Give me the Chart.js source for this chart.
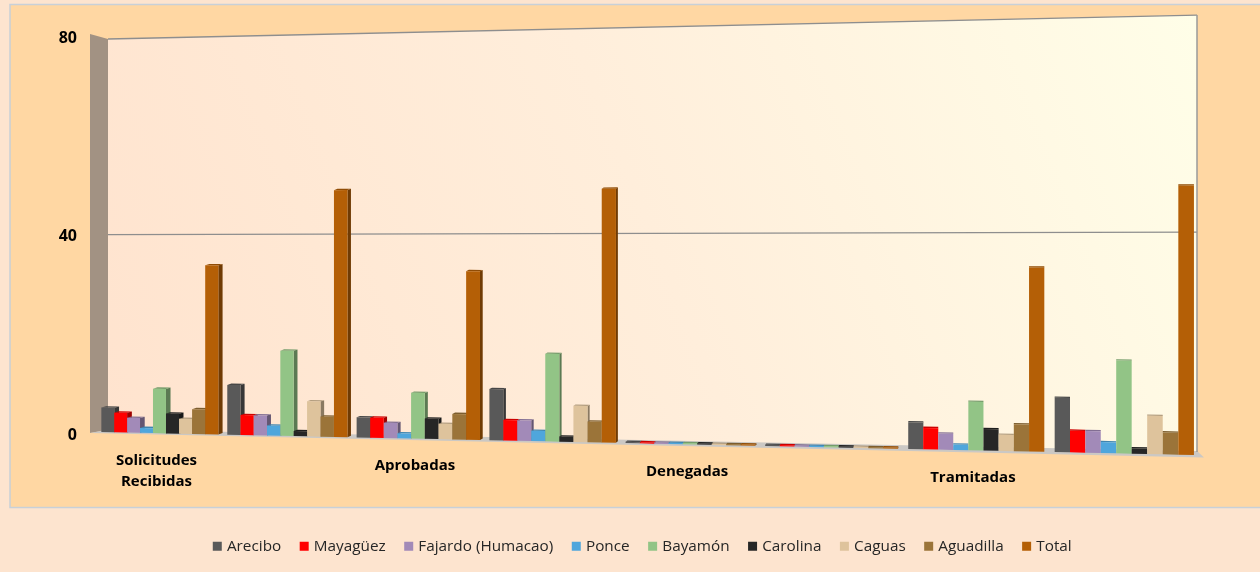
<!DOCTYPE html>
<html>
<head>
<meta charset="utf-8">
<title>Solicitudes por región</title>
<script src="https://cdn.jsdelivr.net/npm/chart.js@4"></script>
<style>
  html, body { margin: 0; padding: 0; background: #FDE4CF; overflow: hidden; }
  canvas { display: block; }
</style>
</head>
<body>
<canvas id="chart" width="1260" height="572"></canvas>
<script>
// Two bars groups per heading, the label only sits under the first one
const categories = [["Solicitudes", "Recibidas"], "", "Aprobadas", "", "Denegadas", "", "Tramitadas", ""];
const yTicks = [0, 40, 80];

const arecibo = [5, 10, 4, 10, 0, 0, 5, 10];
const mayaguez = [4, 4, 4, 4, 0, 0, 4, 4];
const fajardo = [3, 4, 3, 4, 0, 0, 3, 4];
const ponce = [1, 2, 1, 2, 0, 0, 1, 2];
const bayamon = [9, 17, 9, 17, 0, 0, 9, 17];
const carolina = [4, 1, 4, 1, 0, 0, 4, 1];
const caguas = [3, 7, 3, 7, 0, 0, 3, 7];
const aguadilla = [5, 4, 5, 4, 0, 0, 5, 4];
const total = [34, 49, 33, 49, 0, 0, 34, 49];

const seriesNames = ["Arecibo", "Mayagüez", "Fajardo (Humacao)", "Ponce", "Bayamón", "Carolina", "Caguas", "Aguadilla", "Total"];
const seriesValues = [arecibo, mayaguez, fajardo, ponce, bayamon, carolina, caguas, aguadilla, total];
const seriesColors = ["#595959", "#FF0000", "#A28AB8", "#4FA6DC", "#92C486", "#262626", "#DEC39C", "#9B7439", "#B45F06"];

const FONT = '"Open Sans", sans-serif';

// Perspective of the original 3D chart: the scales stay flat, this bends their pixels
const floorY = x => 432 + 0.021 * (x - 100);
const ceilY = x => 39.2 - 0.022 * (x - 100);
const warpX = (chart, px) => {
  const area = chart.chartArea;
  const u = (px - area.left) / (area.right - area.left) * categories.length;
  return 97 + 124.1 * u + 1.71 * u * u;
};
const warpY = (chart, x, py) => {
  const area = chart.chartArea;
  const f = (area.bottom - py) / (area.bottom - area.top);
  return floorY(x) + f * (ceilY(x) - floorY(x));
};

function poly(ctx, pts, fill) {
  ctx.beginPath();
  pts.forEach((p, i) => i ? ctx.lineTo(p[0], p[1]) : ctx.moveTo(p[0], p[1]));
  ctx.closePath();
  ctx.fillStyle = fill;
  ctx.fill();
}

function shade(hex, k) {
  const n = parseInt(hex.slice(1), 16);
  const c = [n >> 16, (n >> 8) & 255, n & 255].map(v => Math.min(255, Math.round(v * k)));
  return `rgb(${c[0]},${c[1]},${c[2]})`;
}

function drawWalls(chart) {
  const ctx = chart.ctx;
  const yScale = chart.scales.y;

  const wall = ctx.createLinearGradient(108, 450, 1197, 15);
  wall.addColorStop(0, "#FFE3CE");
  wall.addColorStop(0.5, "#FFEEDB");
  wall.addColorStop(1, "#FFFEE8");
  poly(ctx, [[108, 39], [1197, 15], [1197, 452], [108, 430]], wall);
  poly(ctx, [[90, 34], [108, 39], [108, 430], [90, 433]], "#A29283");
  poly(ctx, [[90, 433], [108, 429.5], [1197, 451], [1204, 457.5]], "#CBC8C4");

  // grid lines, top one and right border are the wall edges
  yTicks.slice(1).forEach(v => {
    const py = yScale.getPixelForValue(v);
    ctx.beginPath();
    ctx.moveTo(108, warpY(chart, 108, py) - (v === 40 ? 1 : 0));
    ctx.lineTo(1197, warpY(chart, 1197, py) - (v === 40 ? 3 : 0));
    ctx.strokeStyle = "#8E8E8E";
    ctx.lineWidth = 1.3;
    ctx.stroke();
  });
  ctx.beginPath();
  ctx.moveTo(1197, 15);
  ctx.lineTo(1197, 452);
  ctx.strokeStyle = "#9A9A9A";
  ctx.lineWidth = 1.5;
  ctx.stroke();
}

function drawBars(chart) {
  const ctx = chart.ctx;
  categories.forEach((c, i) => {
    chart.data.datasets.forEach((ds, d) => {
      const bar = chart.getDatasetMeta(d).data[i];
      const x0 = warpX(chart, bar.x - bar.width / 2);
      const x1 = warpX(chart, bar.x + bar.width / 2);
      const b0 = floorY(x0), b1 = floorY(x1);
      let t0 = warpY(chart, x0, bar.y), t1 = warpY(chart, x1, bar.y);
      if (ds.data[i] === 0) { t0 -= 1.2; t1 -= 1.2; }
      const depth = Math.max(0, 5.5 * (1 - x1 / 950));
      const rise = 1.3;
      // side, top, front
      poly(ctx, [[x1, t1], [x1 + depth, t1 - rise], [x1 + depth, b1 - 1.5], [x1, b1]], shade(ds.backgroundColor, 0.62));
      poly(ctx, [[x0, t0], [x0 + depth, t0 - rise], [x1 + depth, t1 - rise], [x1, t1]], shade(ds.backgroundColor, 0.8));
      poly(ctx, [[x0, t0], [x1, t1], [x1, b1], [x0, b0]], ds.backgroundColor);
    });
  });
}

function drawCategoryLabels(chart) {
  const ctx = chart.ctx;
  ctx.font = "bold 15px " + FONT;
  ctx.fillStyle = "#000";
  ctx.textAlign = "center";
  ctx.textBaseline = "middle";
  categories.forEach((c, i) => {
    if (!c) return;
    const x = warpX(chart, chart.scales.x.getPixelForValue(i)) - 3;
    [].concat(c).forEach((line, n) => ctx.fillText(line, x, floorY(x) + 27.5 + n * 21));
  });
}

const warpedPlot = {
  id: "warpedPlot",
  // the plot stops short of the right edge but the legend is centred on more than the canvas
  afterLayout(chart) {
    chart.legend.left += 44;
    chart.legend.right += 44;
  },
  beforeDraw(chart) {
    const ctx = chart.ctx;
    ctx.fillStyle = "#FFD7A3";
    ctx.strokeStyle = "#C8D0D8";
    ctx.lineWidth = 1.5;
    ctx.fillRect(10, 4.5, 1260, 503);
    ctx.strokeRect(10, 4.5, 1260, 503);
  },
  // false cancels the flat bars, they are painted from the same elements below
  beforeDatasetsDraw(chart) {
    drawWalls(chart);
    drawBars(chart);
    drawCategoryLabels(chart);
    return false;
  }
};

new Chart(document.getElementById("chart").getContext("2d"), {
  type: "bar",
  data: {
    labels: categories,
    datasets: seriesNames.map((name, i) => ({
      label: name,
      data: seriesValues[i],
      backgroundColor: seriesColors[i],
      borderWidth: 0,
      barPercentage: 1,
      categoryPercentage: 0.93
    }))
  },
  plugins: [warpedPlot],
  options: {
    responsive: false,
    animation: false,
    devicePixelRatio: 1,
    layout: { padding: { top: 38, right: 61, bottom: 8, left: 0 } },
    scales: {
      x: {
        grid: { display: false, drawTicks: false },
        border: { display: false },
        ticks: { display: false },
        afterFit: s => { s.height = 82; }
      },
      y: {
        min: 0,
        max: 80,
        afterBuildTicks: s => { s.ticks = yTicks.map(v => ({ value: v })); },
        afterFit: s => { s.width = 97; },
        grid: { display: false, drawTicks: false },
        border: { display: false },
        ticks: { padding: 20, color: "#000", font: { family: FONT, size: 16, weight: "bold" } }
      }
    },
    plugins: {
      tooltip: { enabled: false },
      legend: {
        position: "bottom",
        labels: {
          usePointStyle: true,
          pointStyle: "rect",
          boxWidth: 4,
          boxHeight: 9,
          padding: 21,
          color: "#262626",
          font: { family: FONT, size: 15.3 }
        }
      }
    }
  }
});
</script>
</body>
</html>
